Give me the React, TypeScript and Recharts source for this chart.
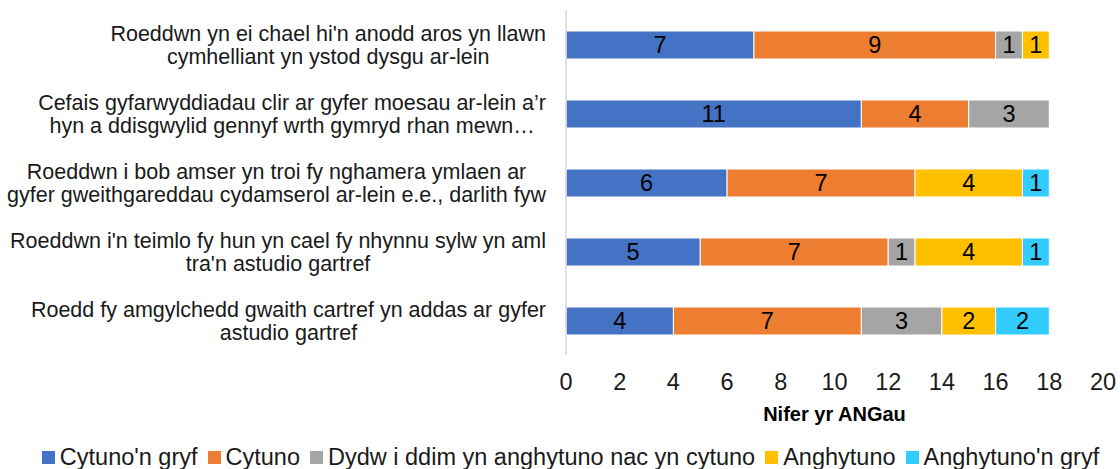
import React from "react";
import {
  BarChart,
  Bar,
  XAxis,
  YAxis,
  Legend,
  LabelList,
} from "recharts";

// categories top to bottom, "\n" marks the line breaks of the axis label
const categories = [
  "Roeddwn yn ei chael hi'n anodd aros yn llawn\ncymhelliant yn ystod dysgu ar-lein",
  "Cefais gyfarwyddiadau clir ar gyfer moesau ar-lein a\u2019r\nhyn a ddisgwylid gennyf wrth gymryd rhan mewn\u2026",
  "Roeddwn i bob amser yn troi fy nghamera ymlaen ar\ngyfer gweithgareddau cydamserol ar-lein e.e., darlith fyw",
  "Roeddwn i'n teimlo fy hun yn cael fy nhynnu sylw yn aml\ntra'n astudio gartref",
  "Roedd fy amgylchedd gwaith cartref yn addas ar gyfer\nastudio gartref",
];

const seriesNames = [
  "Cytuno'n gryf",
  "Cytuno",
  "Dydw i ddim yn anghytuno nac yn cytuno",
  "Anghytuno",
  "Anghytuno'n gryf",
];

const stronglyAgree = [7, 11, 6, 5, 4];
const agree = [9, 4, 7, 7, 7];
const neutral = [1, 3, 0, 1, 3];
const disagree = [1, 0, 4, 4, 2];
const stronglyDisagree = [0, 0, 1, 1, 2];

const xTicks = [0, 2, 4, 6, 8, 10, 12, 14, 16, 18, 20];

const colors = ["#4472C4", "#ED7D31", "#A5A5A5", "#FFC000", "#33CCFF"];

const series = [stronglyAgree, agree, neutral, disagree, stronglyDisagree];

const data = categories.map((name, i) => {
  const row: Record<string, string | number> = { name };
  series.forEach((values, s) => {
    row[`s${s}`] = values[i];
  });
  return row;
});

const FONT = "'Liberation Sans', Arial, sans-serif";
const TEXT = "#1a1a1a";

let ctx: CanvasRenderingContext2D | null = null;
function measure(text: string, size: number) {
  if (!ctx) ctx = document.createElement("canvas").getContext("2d");
  if (!ctx) return text.length * size * 0.5;
  ctx.font = `${size}px 'Liberation Sans'`;
  return ctx.measureText(text).width;
}

function CategoryTick(props: any) {
  const { y, payload } = props;
  const lines = String(payload.value).split("\n");
  const size = 21.5;
  const widest = Math.max(...lines.map((l) => measure(l, size)));
  const cx = 546 - widest / 2;
  const lineHeight = 23;
  const startY = y - ((lines.length - 1) * lineHeight) / 2;
  return (
    <text textAnchor="middle" fontSize={size} fontFamily={FONT} fill={TEXT}>
      {lines.map((line, i) => (
        <tspan key={i} x={cx} y={startY + i * lineHeight} dy="0.35em">
          {line}
        </tspan>
      ))}
    </text>
  );
}

function LegendRow() {
  return (
    <div
      style={{
        display: "flex",
        justifyContent: "center",
        alignItems: "center",
        paddingLeft: 31,
        fontSize: 23.5,
        fontFamily: FONT,
        color: TEXT,
        lineHeight: "24px",
        whiteSpace: "nowrap",
      }}
    >
      {seriesNames.map((name, s) => (
        <span
          key={name}
          style={{ display: "flex", alignItems: "center", marginRight: 10 }}
        >
          <span
            style={{
              width: 13,
              height: 13,
              background: colors[s],
              marginRight: 5,
              display: "inline-block",
            }}
          />
          {name}
        </span>
      ))}
    </div>
  );
}

const hideZero = (v: any) => (v ? v : "");

export default function App() {
  return (
    <div style={{ position: "absolute", left: 0, top: 0 }}>
      <BarChart
        width={1120}
        height={469}
        data={data}
        layout="vertical"
        margin={{ top: 10, right: 17, left: 0, bottom: 0 }}
        barCategoryGap={0}
      >
        <XAxis
          type="number"
          domain={[0, 20]}
          ticks={xTicks}
          interval={0}
          axisLine={false}
          tickLine={false}
          tickMargin={12}
          height={90}
          tick={{ fontSize: 23.5, fill: TEXT, fontFamily: FONT }}
          label={{
            value: "Nifer yr ANGau",
            position: "insideBottom",
            offset: 24,
            style: {
              fontSize: 20,
              fontWeight: "bold",
              fill: "#000",
              fontFamily: FONT,
            },
          }}
        />
        <YAxis
          type="category"
          dataKey="name"
          width={566}
          axisLine={{ stroke: "#D9D9D9", strokeWidth: 1.5 }}
          tickLine={false}
          tick={<CategoryTick />}
          interval={0}
        />
        <Legend
          verticalAlign="bottom"
          content={<LegendRow />}
          wrapperStyle={{ height: 24, left: 0, width: 1120 }}
        />
        {seriesNames.map((name, s) => (
          <Bar
            key={name}
            dataKey={`s${s}`}
            name={name}
            stackId="a"
            fill={colors[s]}
            stroke="#fff"
            strokeWidth={1}
            barSize={28}
            isAnimationActive={false}
          >
            <LabelList
              dataKey={`s${s}`}
              position="center"
              formatter={hideZero}
              style={{ fontSize: 23.5, fill: "#000", fontFamily: FONT }}
            />
          </Bar>
        ))}
      </BarChart>
    </div>
  );
}
